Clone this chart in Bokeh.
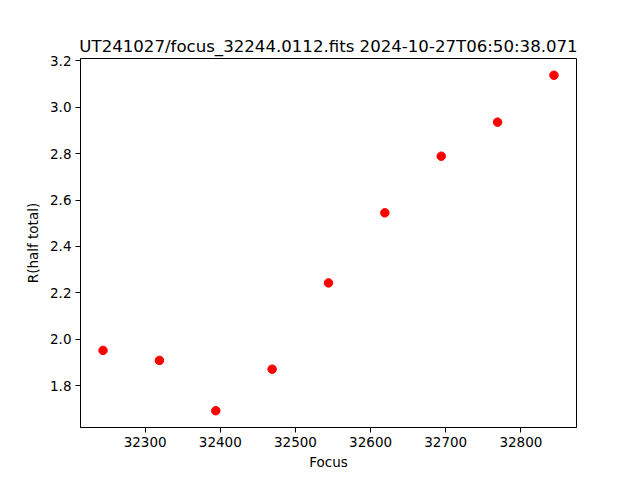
from bokeh.plotting import figure
from bokeh.models import FixedTicker, Range1d, NumeralTickFormatter
from bokeh.embed import file_html
from bokeh.resources import INLINE

focus = [32244, 32319, 32394, 32469, 32544, 32619, 32694, 32769, 32844]
r_half = [1.952, 1.909, 1.692, 1.871, 2.243, 2.545, 2.789, 2.936, 3.138]
x_ticks = [32300, 32400, 32500, 32600, 32700, 32800]
y_ticks = [1.8, 2.0, 2.2, 2.4, 2.6, 2.8, 3.0, 3.2]
title_text = "UT241027/focus_32244.0112.fits 2024-10-27T06:50:38.071"

FONT = "DejaVu Sans"

xr = max(focus) - min(focus)
yr = max(r_half) - min(r_half)
p = figure(width=632, height=472, output_backend="svg", toolbar_location=None,
           x_range=Range1d(min(focus) - 0.05 * xr, max(focus) + 0.05 * xr),
           y_range=Range1d(min(r_half) - 0.05 * yr, max(r_half) + 0.05 * yr),
           frame_width=496, frame_height=369,
           min_border_left=80, min_border_right=56, min_border_top=58, min_border_bottom=45,
           title=title_text)

p.title.align = "center"
p.title.text_font = FONT
p.title.text_font_size = "16.6px"
p.title.text_font_style = "normal"
p.title.text_color = "black"
p.title.offset = 0
p.title.standoff = 5

p.xgrid.visible = False
p.ygrid.visible = False
p.outline_line_color = "black"
p.outline_line_width = 1
p.background_fill_color = "white"
p.border_fill_color = "white"

for ax in (p.xaxis[0], p.yaxis[0]):
    ax.axis_line_color = "black"
    ax.major_tick_line_color = "black"
    ax.major_tick_out = 5
    ax.major_tick_in = 0
    ax.minor_tick_line_color = None
    ax.major_label_text_font = FONT
    ax.major_label_text_font_size = "13.5px"
    ax.major_label_text_color = "black"
    ax.axis_label_text_font = FONT
    ax.axis_label_text_font_size = "13.5px"
    ax.axis_label_text_font_style = "normal"
    ax.axis_label_text_color = "black"
    ax.major_label_standoff = 4

p.xaxis.ticker = FixedTicker(ticks=x_ticks)
p.yaxis.ticker = FixedTicker(ticks=y_ticks)
p.yaxis.formatter = NumeralTickFormatter(format="0.0")
p.xaxis.axis_label = "Focus"
p.yaxis.axis_label = "R(half total)"
p.xaxis.axis_label_standoff = 4
p.yaxis.axis_label_standoff = 6

p.scatter(focus, r_half, size=8.5, color="red", line_color="red")

open("out.html", "w").write(file_html(p, INLINE))
